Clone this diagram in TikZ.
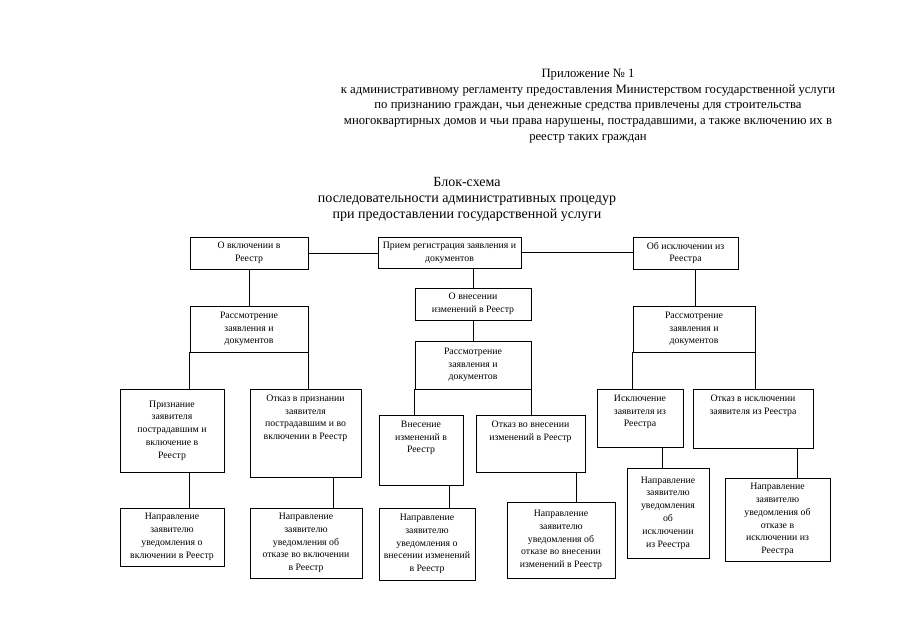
\documentclass[tikz,border=0pt]{standalone}
\usepackage{fontspec}
\setmainfont{Liberation Serif}
\usetikzlibrary{calc}
\tikzset{
  box/.style={draw, line width=0.7pt, inner sep=0pt, align=center, font=\fontsize{9.8}{12.8}\selectfont},
  txt/.style={inner sep=0pt, align=center, font=\fontsize{9.8}{12.8}\selectfont},
  link/.style={draw, line width=0.7pt},
}
% centred box: name, x1, y1, x2, y2, text
\newcommand\cbx[6]{\node[box, minimum width={(#4-#2)*1pt}, minimum height={(#5-#3)*1pt}] (#1) at ({(#2+#4)/2},{(#3+#5)/2}) {#6};}
% box with text at top: name, x1, y1, x2, y2, text
\newcommand\tbx[6]{\node[box, minimum width={(#4-#2)*1pt}, minimum height={(#5-#3)*1pt}] (#1) at ({(#2+#4)/2},{(#3+#5)/2}) {};
  \node[txt, anchor=north] (#1-t) at ([yshift=-6pt]#1.north) {#6};}
\begin{document}
\begin{tikzpicture}[x=1pt, y=-1pt]
\useasboundingbox (0,0) rectangle (905,640);
\fill[white] (0,0) rectangle (905,640);
\node[txt, font=\fontsize{12.7}{15.6}\selectfont] (head) at (588,106) {Приложение № 1\\
к административному регламенту предоставления Министерством государственной услуги\\
по признанию граждан, чьи денежные средства привлечены для строительства\\
многоквартирных домов и чьи права нарушены, пострадавшими, а также включению их в\\
реестр таких граждан};
\node[txt, font=\fontsize{14}{16}\selectfont] (title) at (467,199) {Блок-схема\\
последовательности административных процедур\\
при предоставлении государственной услуги};
% row 1
\cbx{A}{190}{237}{308}{269}{О включении в\\Реестр}
\cbx{B}{378}{237}{521}{268}{Прием регистрация заявления и\\документов}
\cbx{C}{633}{237}{738}{269}{Об исключении из\\Реестра}
% row 2
\cbx{D}{415}{288}{531}{320}{О внесении\\изменений в Реестр}
\cbx{E}{190}{306}{308}{352}{Рассмотрение\\заявления и\\документов}
\cbx{F}{415}{341}{531}{389}{Рассмотрение\\заявления и\\документов}
\cbx{G}{633}{306}{755}{352}{Рассмотрение\\заявления и\\документов}
% row 3
\cbx{H}{120}{389}{224}{472}{Признание\\заявителя\\пострадавшим и\\включение в\\Реестр}
\tbx{I}{250}{389}{361}{477}{Отказ в признании\\заявителя\\пострадавшим и во\\включении в Реестр}
\tbx{K}{379}{415}{463}{485}{Внесение\\изменений в\\Реестр}
\tbx{L}{476}{415}{585}{472}{Отказ во внесении\\изменений в Реестр}
\tbx{M}{597}{389}{683}{447}{Исключение\\заявителя из\\Реестра}
\tbx{N}{693}{389}{813}{448}{Отказ в исключении\\заявителя из Реестра}
% row 4
\cbx{J1}{120}{508}{224}{566}{Направление\\заявителю\\уведомления о\\включении в Реестр}
\cbx{J2}{250}{508}{362}{578}{Направление\\заявителю\\уведомления об\\отказе во включении\\в Реестр}
\cbx{J3}{379}{508}{475}{580}{Направление\\заявителю\\уведомления о\\внесении изменений\\в Реестр}
\cbx{J4}{507}{502}{615}{578}{Направление\\заявителю\\уведомления об\\отказе во внесении\\изменений в Реестр}
\cbx{J5}{627}{468}{709}{558}{Направление\\заявителю\\уведомления\\об\\исключении\\из Реестра}
\cbx{J6}{725}{478}{830}{561}{Направление\\заявителю\\уведомления об\\отказе в\\исключении из\\Реестра}
% connectors
\path[link] (A.east) -- (A.east -| B.west);
\path[link] (B.east) -- (B.east -| C.west);
\path[link] (D.north |- B.south) -- (D.north);
\path[link] (D.south) -- (F.north);
\path[link] (A.south) -- (E.north);
\path[link] ([xshift=63pt]C.south west) -- ([xshift=63pt]C.south west |- G.north);
\path[link] (E.south west) -- (E.south west |- H.north);
\path[link] (E.south east) -- (E.south east |- I.north);
\path[link] (F.south west) -- (F.south west |- K.north);
\path[link] (F.south east) -- (F.south east |- L.north);
\path[link] (G.south west) -- (G.south west |- M.north);
\path[link] (G.south east) -- (G.south east |- N.north);
\path[link] (H.south -| E.west) -- (J1.north -| E.west);
\path[link] ([xshift=84pt]I.south west) -- ([xshift=84pt]I.south west |- J2.north);
\path[link] ([xshift=71pt]K.south west) -- ([xshift=71pt]K.south west |- J3.north);
\path[link] ([xshift=101pt]L.south west) -- ([xshift=101pt]L.south west |- J4.north);
\path[link] ([xshift=66pt]M.south west) -- ([xshift=66pt]M.south west |- J5.north);
\path[link] ([xshift=105pt]N.south west) -- ([xshift=105pt]N.south west |- J6.north);
\end{tikzpicture}
\end{document}
